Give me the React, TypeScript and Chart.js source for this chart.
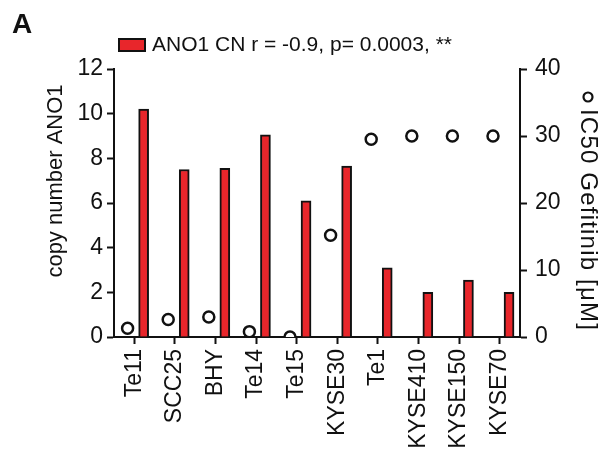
import React, { useEffect, useRef } from "react";
import { Chart, registerables } from "chart.js";

Chart.register(...registerables);

const categories = ["Te11", "SCC25", "BHY", "Te14", "Te15", "KYSE30", "Te1", "KYSE410", "KYSE150", "KYSE70"];
const copyNumber = [10.2, 7.5, 7.55, 9.05, 6.1, 7.65, 3.1, 2.0, 2.55, 2.0];
const ic50 = [1.3, 2.6, 3.0, 0.8, 0.0, 15.2, 29.5, 30.0, 30.0, 30.0];
const leftTicks = { min: 0, max: 12, step: 2 };
const rightTicks = { min: 0, max: 40, step: 10 };
const legendText = "ANO1 CN r = -0.9, p= 0.0003, **";
const leftTitle = "copy number ANO1";
const rightTitle = "IC50 Gefitinib [\u03bcM]";
const panelLetter = "A";

const FONT = "'Liberation Sans', Arial, sans-serif";
const RED = "#e8262b";
const POINT_SHIFT = -0.165;
const BAR_SHIFT = 0.23;

const decorPlugin = {
  id: "decor",
  afterDraw(chart: any) {
    const ctx = chart.ctx;
    ctx.save();
    ctx.fillStyle = "#111";
    ctx.font = `bold 28px ${FONT}`;
    ctx.textBaseline = "alphabetic";
    ctx.textAlign = "left";
    ctx.fillText(panelLetter, 12, 33);
    ctx.fillStyle = RED;
    ctx.strokeStyle = "#111";
    ctx.lineWidth = 2;
    ctx.fillRect(119, 39, 26, 12);
    ctx.strokeRect(119, 39, 26, 12);
    ctx.fillStyle = "#111";
    ctx.font = `21px ${FONT}`;
    ctx.textBaseline = "middle";
    ctx.fillText(legendText, 152, 45);
    ctx.save();
    ctx.translate(56, 181);
    ctx.rotate(-Math.PI / 2);
    ctx.textAlign = "center";
    ctx.font = `22px ${FONT}`;
    ctx.fillText(leftTitle, 0, 0);
    ctx.restore();
    ctx.save();
    ctx.translate(588, 97);
    ctx.rotate(Math.PI / 2);
    ctx.beginPath();
    ctx.arc(0, 0, 4.5, 0, Math.PI * 2);
    ctx.fillStyle = "#fff";
    ctx.fill();
    ctx.lineWidth = 2.2;
    ctx.strokeStyle = "#111";
    ctx.stroke();
    ctx.fillStyle = "#111";
    ctx.textAlign = "left";
    ctx.font = `24px ${FONT}`;
    try { (ctx as any).letterSpacing = "1.2px"; } catch (e) {}
    ctx.fillText(rightTitle, 12, 0);
    ctx.restore();
    ctx.restore();
  },
};

export default function App() {
  const ref = useRef<HTMLCanvasElement>(null);
  useEffect(() => {
    document.body.style.margin = "0";
    const chart = new Chart(ref.current as HTMLCanvasElement, {
      type: "bar",
      data: {
        labels: categories,
        datasets: [
          {
            type: "bar",
            label: "ANO1 CN",
            data: copyNumber.map((v, i) => ({ x: i + BAR_SHIFT, y: v })),
            backgroundColor: RED,
            borderColor: "#111",
            borderWidth: 2,
            borderSkipped: "bottom",
            xAxisID: "xp",
            yAxisID: "y",
            grouped: false,
            barThickness: 10,
          } as any,
          {
            type: "scatter",
            label: "IC50",
            data: ic50.map((v, i) => ({ x: i + POINT_SHIFT, y: v })),
            xAxisID: "xp",
            yAxisID: "y1",
            pointRadius: 5.5,
            pointBorderWidth: 2.5,
            pointBackgroundColor: "#fff",
            pointBorderColor: "#111",
            showLine: false,
          } as any,
        ],
      },
      options: {
        responsive: false,
        animation: false,
        layout: { padding: { top: 69, left: 0, right: 0, bottom: 0 } },
        plugins: { legend: { display: false }, tooltip: { enabled: false } },
        scales: {
          x: {
            type: "category",
            offset: true,
            min: categories[0],
            max: categories[categories.length - 1],
            grid: { display: true, drawOnChartArea: false, offset: false, tickLength: 7, tickWidth: 2, tickColor: "#111" },
            border: { display: true, color: "#111", width: 2 },
            ticks: {
              color: "#111",
              font: { family: FONT, size: 23 },
              minRotation: 90,
              maxRotation: 90,
              padding: 5,
              autoSkip: false,
            },
            afterFit: (s: any) => { s.height = 122; },
          },
          xp: {
            type: "linear",
            display: false,
            min: -0.5,
            max: 9.5,
            offset: false,
          },
          y: {
            type: "linear",
            position: "left",
            min: leftTicks.min,
            max: leftTicks.max,
            grid: { display: true, drawOnChartArea: false, tickLength: 7, tickWidth: 2, tickColor: "#111" },
            border: { display: true, color: "#111", width: 2 },
            ticks: { stepSize: leftTicks.step, color: "#111", font: { family: FONT, size: 23 }, padding: 4 },
            afterFit: (s: any) => { s.width = 114; },
          },
          y1: {
            type: "linear",
            position: "right",
            min: rightTicks.min,
            max: rightTicks.max,
            grid: { display: true, drawOnChartArea: false, tickLength: 7, tickWidth: 2, tickColor: "#111" },
            border: { display: true, color: "#111", width: 2 },
            ticks: { stepSize: rightTicks.step, color: "#111", font: { family: FONT, size: 23 }, padding: 8 },
            afterFit: (s: any) => { s.width = 85; },
          },
        },
      } as any,
      plugins: [decorPlugin],
    });
    return () => chart.destroy();
  }, []);
  return (
    <canvas
      ref={ref}
      width={605}
      height={459}
      style={{ display: "block", position: "fixed", left: 0, top: 0, background: "#fff" }}
    />
  );
}
